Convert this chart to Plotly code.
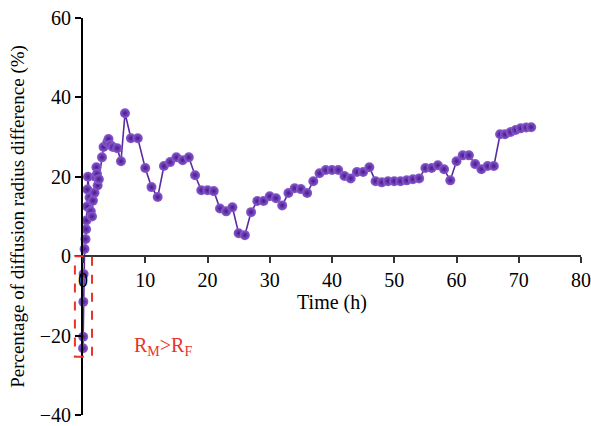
import plotly.graph_objects as go

# ---- data ----
time_h = [0.00, 0.03, 0.06, 0.10, 0.25, 0.40, 0.50, 0.55, 0.65, 0.70, 0.80,
          1.05, 1.25, 1.45, 1.60, 1.85, 2.00, 2.15, 2.25, 2.35, 2.55,
          3.05, 3.30, 3.90, 4.10, 4.40, 4.80, 5.50, 6.10, 6.75, 7.70, 8.80,
          10, 11, 12, 13, 14, 15, 16, 17, 18, 19, 20, 21, 22, 23, 24, 25, 26,
          27, 28, 29, 30, 31, 32, 33, 34, 35, 36, 37, 38, 39, 40, 41, 42, 43,
          44, 45, 46, 47, 48, 49, 50, 51, 52, 53, 54, 55, 56, 57, 58, 59, 60,
          61, 62, 63, 64, 65, 66, 67, 67.8, 68.7, 69.5, 70.3, 71.2, 72]
diff_pct = [-23.2, -20.3, -11.5, -4.5, 1.8, 4.3, 6.8, 9.0, 12.5, 16.8, 20.0,
            14.8, 11.3, 10.0, 14.0, 16.0, 20.0, 22.4, 20.7, 17.8, 19.4,
            24.9, 27.5, 28.7, 29.5, 28.0, 27.5, 27.2, 23.9, 36.0, 29.7, 29.7,
            22.2, 17.4, 14.9, 22.7, 23.7, 24.9, 24.2, 24.9, 20.4, 16.6, 16.6,
            16.4, 12.0, 11.3, 12.3, 5.8, 5.3, 11.1, 13.9, 13.9, 15.1, 14.6,
            12.8, 15.9, 17.1, 16.9, 15.9, 18.9, 20.9, 21.7, 21.7, 21.7, 20.2,
            19.6, 21.2, 21.2, 22.4, 18.9, 18.6, 18.9, 18.9, 18.9, 19.1, 19.4,
            19.6, 22.2, 22.2, 22.9, 21.9, 19.1, 23.9, 25.4, 25.4, 23.2, 21.9,
            22.7, 22.7, 30.7, 30.7, 31.3, 31.8, 32.2, 32.4, 32.5]

x_ticks = [0, 10, 20, 30, 40, 50, 60, 70, 80]
y_ticks = [-40, -20, 0, 20, 40, 60]
x_range = [0, 80]
y_range = [-40, 60]

# red dashed box (data extent of the negative region)
box_x = [-1.3, 1.45]
box_y = [-25.3, 0]

FONT = "Liberation Serif"
PURPLE = "#4a168e"

fig = go.Figure()
fig.add_trace(go.Scatter(
    x=time_h, y=diff_pct, mode="lines+markers",
    line=dict(color="#5a2aa0", width=1.6),
    marker=dict(size=10, color="#8a5fd0",
                gradient=dict(type="radial", color=PURPLE),
                line=dict(width=0)),
    cliponaxis=False, showlegend=False,
))

def xfrac(v):
    return (v - x_range[0]) / (x_range[1] - x_range[0])

fig.add_shape(type="rect", xref="paper", yref="y",
              x0=xfrac(box_x[0]), x1=xfrac(box_x[1]), y0=box_y[0], y1=box_y[1],
              line=dict(color="#e8342a", width=2, dash="dash"),
              fillcolor="rgba(0,0,0,0)")

fig.add_annotation(x=12.9, y=-22.7, xref="x", yref="y",
                   text="R<sub>M</sub>>R<sub>F</sub>", showarrow=False,
                   font=dict(family=FONT, size=20, color="#e8342a"))

fig.update_layout(
    width=591, height=426,
    margin=dict(l=83, r=10, t=18, b=11),
    paper_bgcolor="white", plot_bgcolor="white",
    font=dict(family=FONT, size=20, color="black"),
    xaxis=dict(range=x_range, tickvals=x_ticks, ticks="outside", ticklen=6,
               tickwidth=1.5, tickcolor="#333", showline=True, linecolor="#333",
               linewidth=2, showgrid=False, zeroline=False, automargin=False,
               anchor="free", position=0.4,
               title=dict(text="Time (h)", standoff=4,
                          font=dict(family=FONT, size=20))),
    yaxis=dict(range=y_range, tickvals=y_ticks, ticks="outside", ticklen=6,
               tickwidth=1.5, tickcolor="black", showline=True,
               linecolor="black", linewidth=2, showgrid=False, zeroline=False,
               automargin=False,
               title=dict(text="Percentage of diffusion radius difference (%)",
                          standoff=10, font=dict(family=FONT, size=19))),
)

fig.write_html(
    "out.html",
    config={"displayModeBar": False},
    post_script="document.body.style.margin='0';"
                "document.body.style.overflow='hidden';",
)
